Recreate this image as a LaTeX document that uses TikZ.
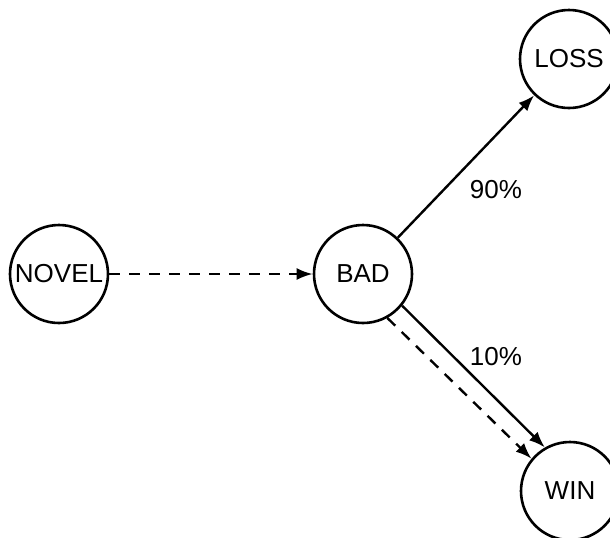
\documentclass[tikz,border=0pt]{standalone}
\usepackage{fontspec}
\setmainfont{Liberation Sans}
\usetikzlibrary{arrows.meta}
\begin{document}
\begin{tikzpicture}[x=.5pt,y=-.5pt, st/.style={circle,draw,line width=1.3pt,minimum size=49pt,inner sep=0pt,font=\fontsize{13}{15}\selectfont},
 arr/.style={line width=1.2pt,-{Latex[length=8pt,width=6pt]}}, dsh/.style={dash pattern=on 5.5pt off 4.5pt}]
\useasboundingbox (0,0) rectangle (610,537);
\clip (0,0) rectangle (610,537);
\path (59,274) node[st] (nov) {NOVEL} (363,274) node[st] (bad) {BAD} (569,59) node[st] (loss) {LOSS} (570,491) node[st] (win) {WIN}
 (496,190) node[font=\fontsize{13}{15}\selectfont] (p90) {90\%} (496,357) node[font=\fontsize{13}{15}\selectfont] (p10) {10\%};
\draw[arr,dsh] (nov) -- (bad);
\draw[arr] (bad) -- (loss);
\draw[arr] (bad.-39) -- (win.120);
\draw[arr,dsh] (bad.-61) -- (win.140);
\end{tikzpicture}
\end{document}
